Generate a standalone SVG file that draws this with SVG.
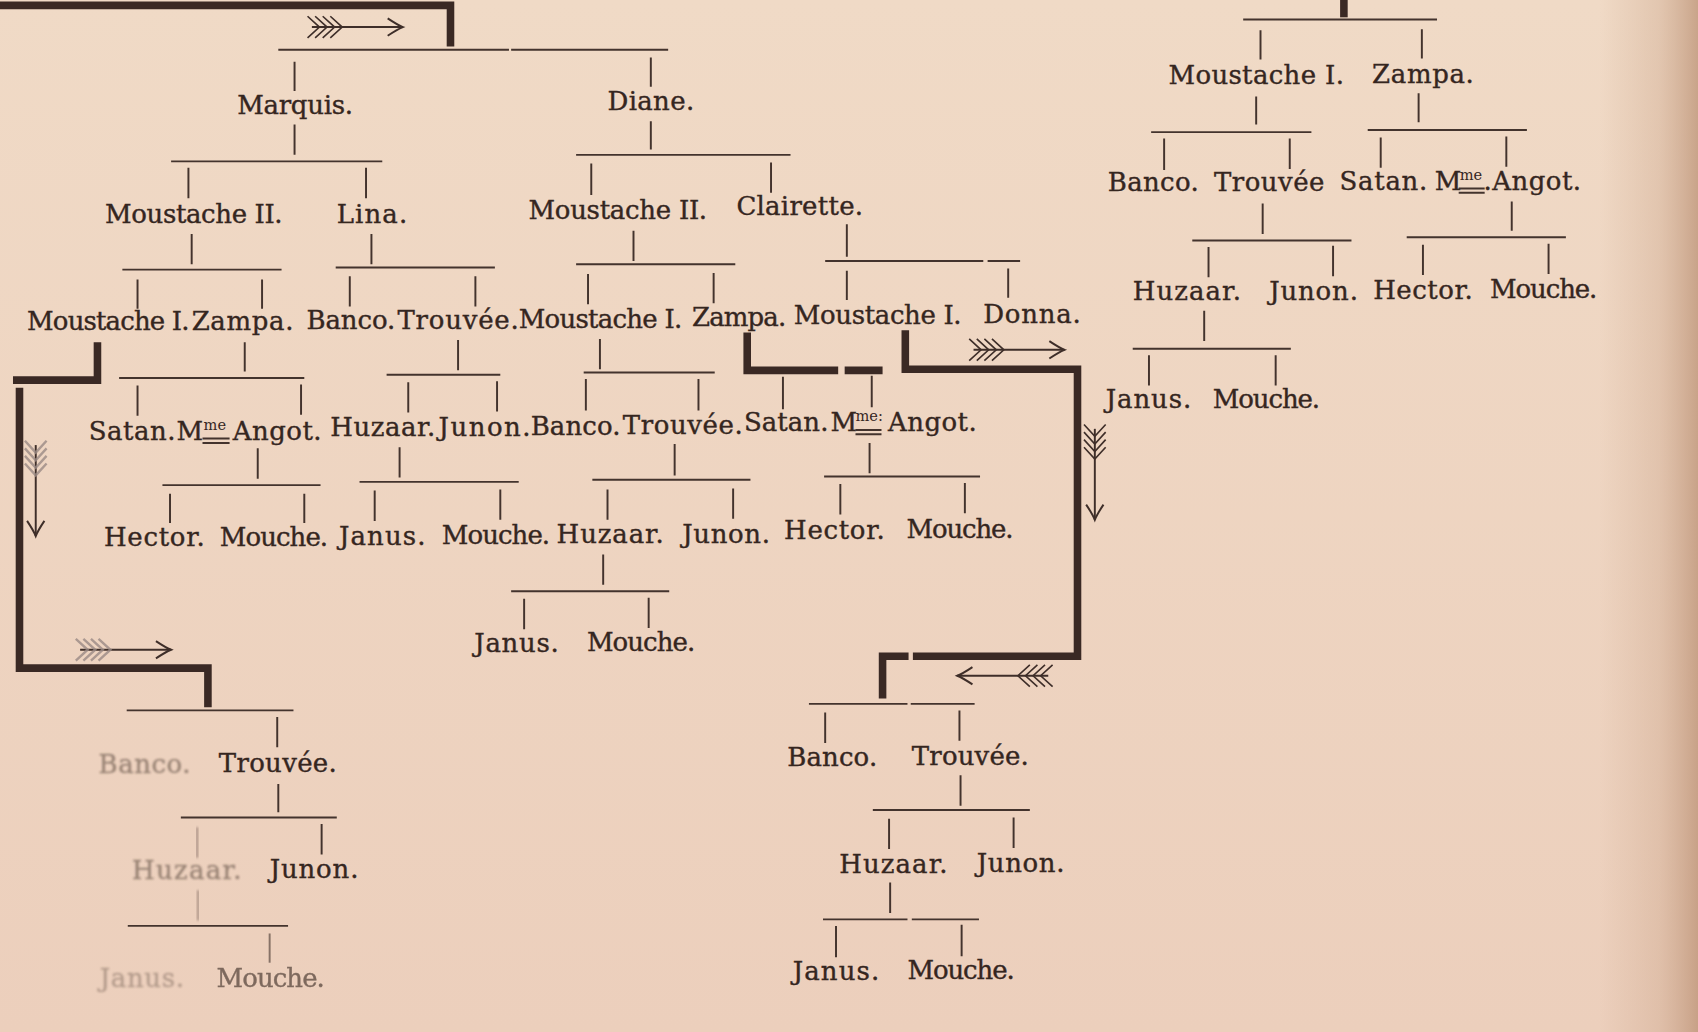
<svg xmlns="http://www.w3.org/2000/svg" xmlns:xlink="http://www.w3.org/1999/xlink" width="1698" height="1032" viewBox="0 0 1698 1032">
<defs>
<style>
.t{font-family:"DejaVu Serif","Liberation Serif",serif;font-size:24px;fill:#35261f;stroke:#35261f;stroke-width:0.35px}
.sup{font-family:"DejaVu Serif","Liberation Serif",serif;font-size:13.5px;fill:#35261f}
.thin{stroke:#43332d;stroke-width:1.8;fill:none}
.thick{stroke:#3a2924;stroke-width:7;fill:none;stroke-linejoin:miter;stroke-linecap:butt}
.arr{stroke:#3e2e29;stroke-width:1.8;fill:none}
.fl{stroke:#3e2e29;stroke-width:1.5;fill:none}
.flfade{stroke:#9a8a84;stroke-width:2.2;fill:none;opacity:0.8}
.fade1{opacity:0.45;filter:url(#smear)}
.fade2{opacity:0.3;filter:url(#smear)}
.fade3{opacity:0.6}
</style>
<linearGradient id="page" x1="0" y1="0" x2="0" y2="1">
<stop offset="0" stop-color="#f0dac6"/>
<stop offset="1" stop-color="#eccfbc"/>
</linearGradient>
<linearGradient id="edge" x1="0" y1="0" x2="1" y2="0">
<stop offset="0" stop-color="#c9a287" stop-opacity="0"/>
<stop offset="0.6" stop-color="#c9a287" stop-opacity="0.35"/>
<stop offset="1" stop-color="#b88d70" stop-opacity="0.7"/>
</linearGradient>
<filter id="smear" x="-10%" y="-30%" width="120%" height="160%"><feGaussianBlur stdDeviation="0.9"/></filter>
<g id="ah"><path d="M-84,0 H0"/><path d="M-14,-8 Q-5,-2 0,0 Q-5,2 -14,8"/></g>
<g id="fletch"><path d="M-67,-10 L-56,0 L-67,10 M-74,-10 L-63,0 L-74,10 M-81,-10 L-70,0 L-81,10 M-88,-10 L-77,0 L-88,10"/></g>
</defs>
<rect x="0" y="0" width="1698" height="1032" fill="url(#page)"/>
<rect x="1600" y="0" width="98" height="1032" fill="url(#edge)"/>
<g transform="scale(1.08291)">
<g id="connectors">
<path class="thick" d="M0,5 H416 V43"/>
<path class="thick" d="M90,316 V351 H12"/>
<path class="thick" d="M18,358 V617 H192 V653"/>
<path class="thick" d="M690,307 V342 H774 M780,342 H815"/>
<path class="thick" d="M836,305 V341 H995 V606 H843 M839,606 H815 V645"/>
<path class="thick" d="M1241,0 V16"/>
<use xlink:href="#ah" class="arr" transform="translate(372,25)"/>
<use xlink:href="#fletch" class="fl" transform="translate(372,25)"/>
<use xlink:href="#ah" class="arr" transform="translate(983,323)"/>
<use xlink:href="#fletch" class="fl" transform="translate(983,323)"/>
<use xlink:href="#ah" class="arr" transform="translate(1011,480) rotate(90)"/>
<use xlink:href="#fletch" class="fl" transform="translate(1011,480) rotate(90)"/>
<use xlink:href="#ah" class="arr" transform="translate(884,624) rotate(180)"/>
<use xlink:href="#fletch" class="fl" transform="translate(884,624) rotate(180)"/>
<use xlink:href="#ah" class="arr" transform="translate(33,495) rotate(90)"/>
<use xlink:href="#fletch" class="flfade" transform="translate(33,495) rotate(90)"/>
<use xlink:href="#ah" class="arr" transform="translate(158,600)"/>
<use xlink:href="#fletch" class="flfade" transform="translate(158,600)"/>
<path class="thin" d="M257,46 H470 M472,46 H617 M272,57 V84 M601,53 V80"/>
<path class="thin" d="M272,115 V143 M158,149 H353 M174,155 V183 M338,155 V183"/>
<path class="thin" d="M177,216 V244 M113,249 H260 M127,258 V285 M242,258 V285"/>
<path class="thin" d="M343,216 V244 M310,247 H457 M323,255 V283 M439,255 V283"/>
<path class="thin" d="M601,112 V138 M532,143 H730 M546,151 V180 M712,150 V178"/>
<path class="thin" d="M585,213 V241 M532,244 H679 M543,253 V281 M659,252 V280"/>
<path class="thin" d="M782,207 V237 M762,241 H908 M912,241 H942 M782,250 V277 M931,248 V275"/>
<path class="thin" d="M226,316 V343 M110,349 H281 M127,356 V384 M278,355 V383"/>
<path class="thin" d="M423,314 V342 M357,346 H462 M377,353 V381 M459,352 V380"/>
<path class="thin" d="M369,413 V441 M332,445 H479 M346,453 V481 M462,452 V480"/>
<path class="thin" d="M554,313 V341 M539,344 H660 M541,350 V379 M645,350 V379"/>
<path class="thin" d="M623,410 V439 M547,443 H693 M561,452 V480 M677,451 V479"/>
<path class="thin" d="M557,512 V540 M472,546 H618 M484,553 V581 M599,552 V580"/>
<path class="thin" d="M238,414 V442 M150,448 H296 M157,456 V483 M281,456 V483"/>
<path class="thin" d="M723,348 V378 M805,347 V376"/>
<path class="thin" d="M803,409 V437 M761,440 H905 M776,447 V475 M891,446 V474"/>
<path class="thin" d="M747,650 H838 M841,650 H900 M762,658 V686 M886,656 V684"/>
<path class="thin" d="M887,716 V744 M806,748 H951 M821,756 V784 M936,755 V783"/>
<path class="thin" d="M822,815 V843 M760,849 H838 M842,849 H904 M772,855 V884 M888,854 V883"/>
<path class="thin" d="M117,656 H271 M256,662 V690"/>
<path class="thin fade1" d="M133,665 V692"/>
<path class="thin" d="M257,724 V750 M167,755 H311 M297,761 V789"/>
<path class="thin fade1" d="M182,764 V792 M183,822 V850"/>
<path class="thin" d="M118,855 H266"/>
<path class="thin fade1" d="M135,864 V890"/>
<path class="thin fade3" d="M249,862 V889"/>
<path class="thin" d="M1148,18 H1327 M1164,28 V55 M1313,27 V54"/>
<path class="thin" d="M1160,89 V115 M1063,122 H1211 M1075,128 V157 M1191,128 V156"/>
<path class="thin" d="M1310,86 V113 M1263,120 H1410 M1275,127 V155 M1391,126 V154"/>
<path class="thin" d="M1166,188 V216 M1101,222 H1248 M1116,228 V256 M1231,227 V255"/>
<path class="thin" d="M1396,186 V213 M1299,219 H1446 M1314,226 V254 M1430,225 V253"/>
<path class="thin" d="M1112,287 V315 M1046,322 H1192 M1061,328 V356 M1178,328 V356"/>
</g>
<g id="nodes">
<g id="n-marquis"><text class="t" x="219" y="105" textLength="107">Marquis.</text></g>
<g id="n-diane"><text class="t" x="561" y="102" textLength="80">Diane.</text></g>
<g id="n-moustache2-a"><text class="t" x="97" y="206" textLength="164">Moustache II.</text></g>
<g id="n-lina"><text class="t" x="311" y="206" textLength="65">Lina.</text></g>
<g id="n-moustache2-b"><text class="t" x="488" y="202" textLength="165">Moustache II.</text></g>
<g id="n-clairette"><text class="t" x="680" y="199" textLength="117">Clairette.</text></g>
<g id="n-moustache1-a"><text class="t" x="25" y="305" textLength="150">Moustache I.</text></g>
<g id="n-zampa-a"><text class="t" x="177" y="305" textLength="94">Zampa.</text></g>
<g id="n-banco-a"><text class="t" x="283" y="304" textLength="82">Banco.</text></g>
<g id="n-trouvee-a"><text class="t" x="367" y="304" textLength="112">Trouvée.</text></g>
<g id="n-moustache1-b"><text class="t" x="479" y="303" textLength="151">Moustache I.</text></g>
<g id="n-zampa-b"><text class="t" x="639" y="301" textLength="87">Zampa.</text></g>
<g id="n-moustache1-c"><text class="t" x="733" y="299" textLength="155">Moustache I.</text></g>
<g id="n-donna"><text class="t" x="908" y="298" textLength="90">Donna.</text></g>
<g id="n-satan-a"><text class="t" x="82" y="406" textLength="80">Satan.</text></g>
<g id="n-angot-a"><text class="t" x="163" y="406">M</text><text class="sup" x="188" y="397">me</text><path class="thin" d="M187,405 H212 M187,409 H212"/><text class="t" x="215" y="406" textLength="82">Angot.</text></g>
<g id="n-huzaar-a"><text class="t" x="305" y="403" textLength="97">Huzaar.</text></g>
<g id="n-junon-a"><text class="t" x="405" y="403" textLength="85">Junon.</text></g>
<g id="n-banco-b"><text class="t" x="490" y="402" textLength="83">Banco.</text></g>
<g id="n-trouvee-b"><text class="t" x="575" y="401" textLength="111">Trouvée.</text></g>
<g id="n-satan-b"><text class="t" x="687" y="398" textLength="78">Satan.</text></g>
<g id="n-angot-b"><text class="t" x="767" y="398">M</text><text class="sup" x="790" y="389">me:</text><path class="thin" d="M790,397 H814 M790,401 H814"/><text class="t" x="820" y="398" textLength="82">Angot.</text></g>
<g id="n-hector-a"><text class="t" x="96" y="504" textLength="93">Hector.</text></g>
<g id="n-mouche-a"><text class="t" x="203" y="504" textLength="100">Mouche.</text></g>
<g id="n-janus-a"><text class="t" x="313" y="503" textLength="80">Janus.</text></g>
<g id="n-mouche-b"><text class="t" x="408" y="502" textLength="100">Mouche.</text></g>
<g id="n-huzaar-b"><text class="t" x="514" y="501" textLength="99">Huzaar.</text></g>
<g id="n-junon-b"><text class="t" x="630" y="501" textLength="81">Junon.</text></g>
<g id="n-hector-b"><text class="t" x="724" y="498" textLength="93">Hector.</text></g>
<g id="n-mouche-c"><text class="t" x="837" y="497" textLength="99">Mouche.</text></g>
<g id="n-janus-b"><text class="t" x="438" y="602" textLength="78">Janus.</text></g>
<g id="n-mouche-d"><text class="t" x="542" y="601" textLength="100">Mouche.</text></g>
<g id="n-banco-c"><text class="t fade1" x="91" y="714" textLength="85">Banco.</text></g>
<g id="n-trouvee-c"><text class="t" x="202" y="713" textLength="109">Trouvée.</text></g>
<g id="n-huzaar-c"><text class="t fade1" x="122" y="812" textLength="101">Huzaar.</text></g>
<g id="n-junon-c"><text class="t" x="249" y="811" textLength="82">Junon.</text></g>
<g id="n-janus-c"><text class="t fade2" x="92" y="911" textLength="78">Janus.</text></g>
<g id="n-mouche-e"><text class="t fade3" x="200" y="911" textLength="100">Mouche.</text></g>
<g id="n-banco-d"><text class="t" x="727" y="707" textLength="83">Banco.</text></g>
<g id="n-trouvee-d"><text class="t" x="842" y="706" textLength="108">Trouvée.</text></g>
<g id="n-huzaar-d"><text class="t" x="775" y="806" textLength="100">Huzaar.</text></g>
<g id="n-junon-d"><text class="t" x="902" y="805" textLength="81">Junon.</text></g>
<g id="n-janus-d"><text class="t" x="732" y="905" textLength="80">Janus.</text></g>
<g id="n-mouche-f"><text class="t" x="838" y="904" textLength="99">Mouche.</text></g>
<g id="n-moustache1-d"><text class="t" x="1079" y="78" textLength="162">Moustache I.</text></g>
<g id="n-zampa-c"><text class="t" x="1267" y="77" textLength="94">Zampa.</text></g>
<g id="n-banco-e"><text class="t" x="1023" y="176" textLength="84">Banco.</text></g>
<g id="n-trouvee-e"><text class="t" x="1121" y="176" textLength="102">Trouvée</text></g>
<g id="n-satan-c"><text class="t" x="1237" y="175" textLength="81">Satan.</text></g>
<g id="n-angot-c"><text class="t" x="1325" y="175">M</text><text class="sup" x="1348" y="166">me</text><path class="thin" d="M1347,174 H1371 M1347,178 H1371"/><text class="t" x="1370" y="175" textLength="90">.Angot.</text></g>
<g id="n-huzaar-e"><text class="t" x="1046" y="277" textLength="100">Huzaar.</text></g>
<g id="n-junon-e"><text class="t" x="1172" y="277" textLength="82">Junon.</text></g>
<g id="n-hector-c"><text class="t" x="1268" y="276" textLength="92">Hector.</text></g>
<g id="n-mouche-g"><text class="t" x="1376" y="275" textLength="99">Mouche.</text></g>
<g id="n-janus-e"><text class="t" x="1021" y="377" textLength="79">Janus.</text></g>
<g id="n-mouche-h"><text class="t" x="1120" y="377" textLength="99">Mouche.</text></g>
</g>
</g>
</svg>
